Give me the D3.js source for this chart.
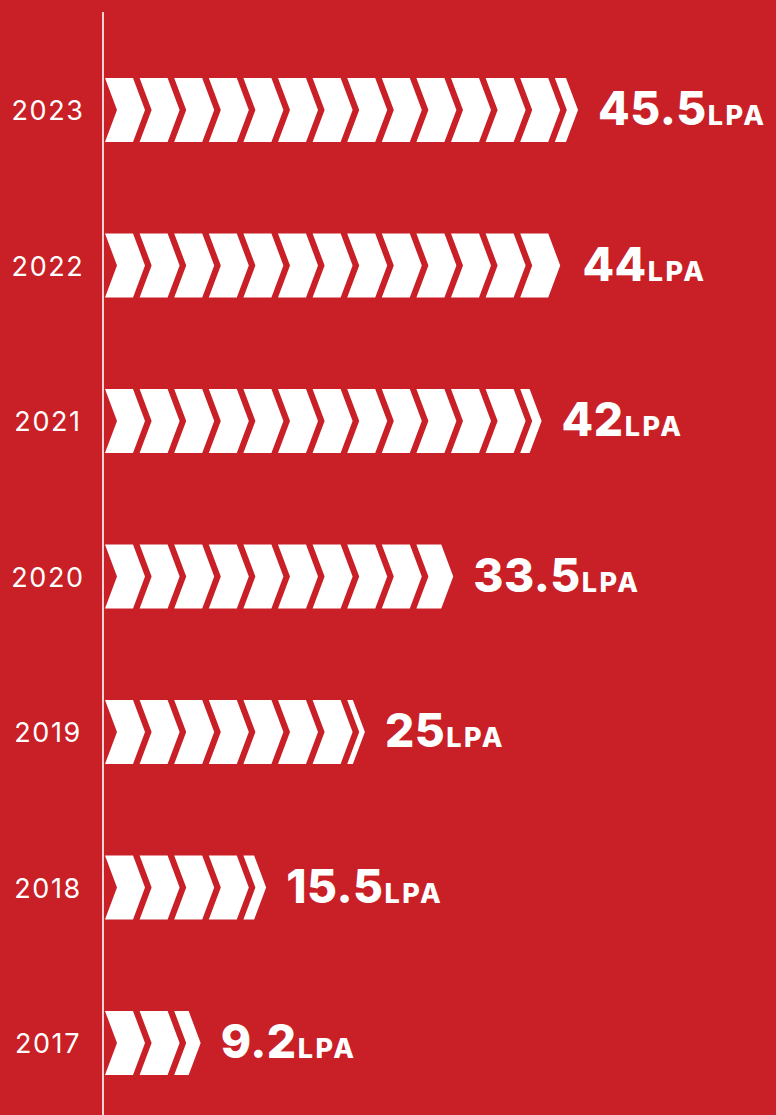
<!DOCTYPE html>
<html lang="en">
<head>
<meta charset="utf-8">
<style>
  html, body { margin: 0; padding: 0; background: #c91f26; }
  svg { display: block; }
  .year { font-family: Inter, "Open Sans", sans-serif; font-size: 27px; letter-spacing: 1.6px; fill: #fff; }
  .val { font-family: Inter, "Open Sans", sans-serif; font-weight: 800; fill: #fff; }
</style>
</head>
<body>
<svg width="776" height="1115"></svg>
<script src="https://d3js.org/d3.v7.min.js"></script>
<script>
// data, top to bottom
var years  = ["2023", "2022", "2021", "2020", "2019", "2018", "2017"];
var values = [45.5, 44, 42, 33.5, 25, 15.5, 9.2];
var labels = ["45.5", "44", "42", "33.5", "25", "15.5", "9.2"];
var unit = "LPA";

var svg = d3.select("svg"),
    width = +svg.attr("width"),
    height = +svg.attr("height");

svg.append("rect").attr("width", width).attr("height", height).attr("fill", "#c91f26");

var axisX = 103;
var x = d3.scaleLinear().domain([0, 45.5]).range([105, 578]);
var y = d3.scalePoint().domain(years).range([110, 1043]);

var barH = 64, chevW = 28, chevD = 12, gap = 6.6;

// axis line
svg.append("line")
    .attr("x1", axisX).attr("x2", axisX)
    .attr("y1", 12).attr("y2", height)
    .attr("stroke", "#fff").attr("stroke-width", 1.6);

function chevron(x0, w, cy) {
  var t = cy - barH / 2, b = cy + barH / 2;
  return [[x0, t], [x0 + w, t], [x0 + w + chevD, cy], [x0 + w, b], [x0, b], [x0 + chevD, cy]];
}

years.forEach(function(yr, i) {
  var cy = y(yr), end = x(values[i]), start = x(0);
  var period = chevW + gap;
  var pts = [];
  for (var x0 = start; x0 < end; x0 += period) {
    var w = Math.min(chevW, end - chevD - x0);
    if (w < 2) break;
    pts.push(chevron(x0, w, cy));
  }
  svg.append("g").selectAll("path")
    .data(pts)
    .enter().append("path")
      .attr("d", function(p) { return "M" + p.join("L") + "Z"; })
      .attr("fill", "#fff");

  svg.append("text")
    .attr("class", "year")
    .attr("x", 48)
    .attr("y", cy + 10)
    .attr("text-anchor", "middle")
    .text(yr);

  var t = svg.append("text")
    .attr("class", "val")
    .attr("x", end + 20)
    .attr("y", cy + 15);
  t.append("tspan").attr("font-size", 46).attr("letter-spacing", 0.5).text(labels[i]);
  t.append("tspan").attr("font-size", 27).attr("letter-spacing", 2.5).attr("dx", 1).text(unit);
});
</script>
</body>
</html>
